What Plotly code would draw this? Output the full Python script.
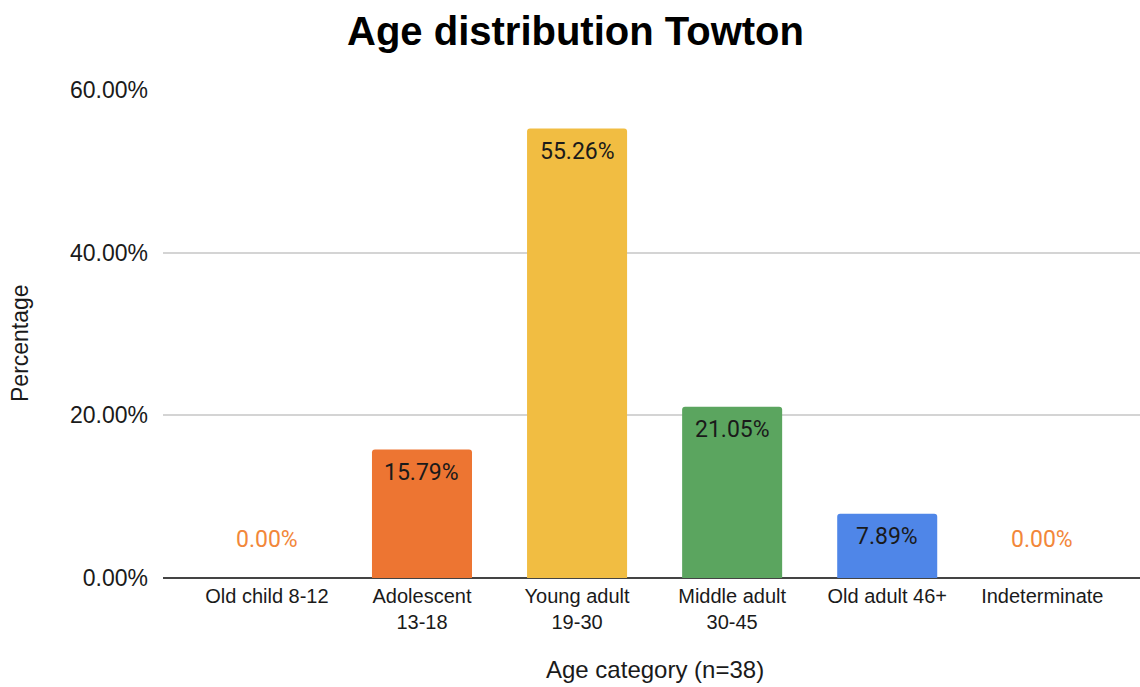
import plotly.graph_objects as go

# Age categories and share of individuals (percent, n=38)
categories = [
    "Old child 8-12",
    "Adolescent<br>13-18",
    "Young adult<br>19-30",
    "Middle adult<br>30-45",
    "Old adult 46+",
    "Indeterminate",
]
percentages = [0.00, 15.79, 55.26, 21.05, 7.89, 0.00]
bar_colors = ["#ED7532", "#ED7532", "#F1BD42", "#5BA55F", "#4F86E8", "#ED7532"]
y_ticks = [0, 20, 40, 60]
y_tick_labels = ["0.00%", "20.00%", "40.00%", "60.00%"]

W, H = 1140, 687
L, R, T, B = 163, 0, 90, 109
plot_h = H - T - B

fig = go.Figure()
fig.add_trace(go.Bar(
    x=list(range(len(categories))),
    y=percentages,
    marker=dict(color=bar_colors, line=dict(width=0)),
    width=0.645,
    hoverinfo="skip",
))

# value labels: inside the top of each bar, above the baseline for empty bars
annotations = []
for i, v in enumerate(percentages):
    if v > 0:
        annotations.append(dict(
            x=i, y=v, xref="x", yref="y", text=f"{v:.2f}%",
            showarrow=False, yanchor="top", yshift=-7,
            font=dict(family="Roboto", size=23, color="#1a1a1a"),
        ))
    else:
        annotations.append(dict(
            x=i, y=v, xref="x", yref="y", text=f"{v:.2f}%",
            showarrow=False, yanchor="bottom", yshift=23,
            font=dict(family="Roboto", size=23, color="#F2873A"),
        ))

# axis titles
annotations.append(dict(
    x=(655 - L) / (W - L - R), y=-(670 - (H - B)) / plot_h,
    xref="paper", yref="paper", text="Age category (n=38)",
    showarrow=False, xanchor="center", yanchor="middle",
    font=dict(family="Liberation Sans, Arial", size=24, color="#1a1a1a"),
))
annotations.append(dict(
    x=(20 - L) / (W - L - R), y=((H - B) - 343) / plot_h,
    xref="paper", yref="paper", text="Percentage", textangle=-90,
    showarrow=False, xanchor="center", yanchor="middle",
    font=dict(family="Liberation Sans, Arial", size=23, color="#1a1a1a"),
))

fig.update_layout(
    width=W, height=H,
    margin=dict(l=L, r=R, t=T, b=B, pad=0),
    paper_bgcolor="white", plot_bgcolor="white",
    showlegend=False,
    barcornerradius=3,
    title=dict(
        text="<b>Age distribution Towton</b>",
        x=575.5 / W, xanchor="center",
        y=1 - 31 / H, yanchor="middle", xref="container", yref="container",
        font=dict(family="Liberation Sans, Arial", size=40, color="#000000"),
    ),
    xaxis=dict(
        tickmode="array",
        tickvals=list(range(len(categories))),
        ticktext=categories,
        range=[-0.67, 5.63],
        showgrid=False, zeroline=False, showline=False,
        ticks="", ticklabelstandoff=4,
        tickfont=dict(family="Liberation Sans, Arial", size=20, color="#1a1a1a"),
        fixedrange=True,
    ),
    yaxis=dict(
        range=[0, 60],
        tickmode="array", tickvals=y_ticks, ticktext=y_tick_labels,
        showgrid=True, gridcolor="#d4d4d4", gridwidth=1.5,
        zeroline=True, zerolinecolor="#444444", zerolinewidth=1.5,
        showline=False, ticks="", ticklabelstandoff=14,
        tickfont=dict(family="Liberation Sans, Arial", size=23, color="#1a1a1a"),
        fixedrange=True,
    ),
    annotations=annotations,
)

fig.write_html("out.html", config={"displayModeBar": False})
